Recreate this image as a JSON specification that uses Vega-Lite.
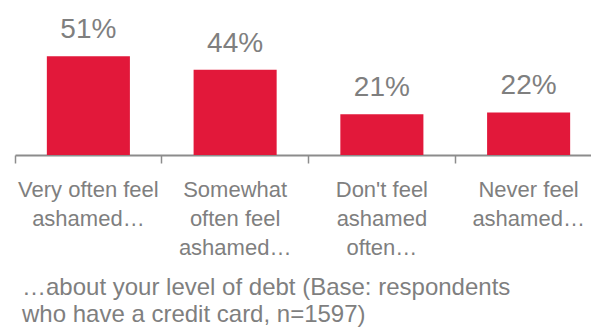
{
  "$schema": "https://vega.github.io/schema/vega-lite/v6.json",
  "autosize": "none",
  "padding": {"left": 15, "top": 0, "right": 0, "bottom": 180},
  "width": 587,
  "height": 155,
  "background": "white",
  "data": {"values": [
    {"category": "Very often feel\nashamed…", "share": 0.51},
    {"category": "Somewhat\noften feel\nashamed…", "share": 0.44},
    {"category": "Don't feel\nashamed\noften…", "share": 0.21},
    {"category": "Never feel\nashamed…", "share": 0.22}
  ]},
  "title": {
    "text": ["…about your level of debt (Base: respondents", "who have a credit card, n=1597)"],
    "orient": "bottom",
    "anchor": "start",
    "frame": "group",
    "dx": 7,
    "offset": 18,
    "font": "Liberation Sans",
    "fontSize": 24,
    "fontWeight": "normal",
    "color": "#7f7f7f",
    "lineHeight": 27,
    "baseline": "top"
  },
  "config": {"view": {"stroke": null}},
  "encoding": {
    "x": {
      "field": "category", "type": "nominal", "sort": null,
      "scale": {"paddingInner": 0, "paddingOuter": 0},
      "axis": {
        "title": null,
        "labelAngle": 0,
        "labelExpr": "split(datum.label, '\\n')",
        "labelFont": "Liberation Sans",
        "labelFontSize": 22,
        "labelColor": "#7f7f7f",
        "labelLineHeight": 29,
        "labelPadding": 16,
        "labelBaseline": "top",
        "tickSize": 8,
        "tickColor": "#8c8c8c",
        "tickWidth": 1.5,
        "domainColor": "#8c8c8c",
        "domainWidth": 2,
        "bandPosition": 0,
        "grid": false
      }
    },
    "y": {
      "field": "share", "type": "quantitative",
      "scale": {"domain": [0, 0.8]},
      "axis": null
    }
  },
  "layer": [
    {"mark": {"type": "bar", "color": "#e2183a", "width": {"band": 0.566}}},
    {
      "mark": {"type": "text", "dy": -18, "baseline": "alphabetic", "font": "Liberation Sans", "fontSize": 28, "color": "#7f7f7f"},
      "encoding": {"text": {"field": "share", "type": "quantitative", "format": ".0%"}}
    }
  ]
}
